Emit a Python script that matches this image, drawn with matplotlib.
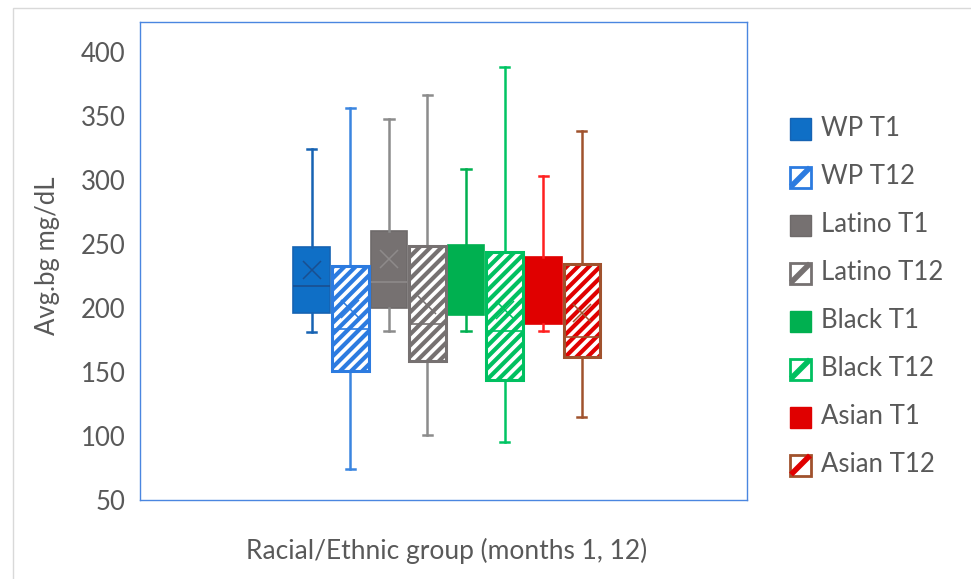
import matplotlib
matplotlib.use('Agg')
import matplotlib.pyplot as plt
from matplotlib.patches import PathPatch, Rectangle
from matplotlib.lines import Line2D

plt.rcParams['font.family'] = ['Lato', 'DejaVu Sans']
plt.rcParams['hatch.linewidth'] = 3.0

# values (mg/dL)
labels = ['WP T1', 'WP T12', 'Latino T1', 'Latino T12',
          'Black T1', 'Black T12', 'Asian T1', 'Asian T12']
whis_lo = [181, 74.5, 182, 101, 182, 95, 182, 115]
q1 = [196, 151, 200, 159, 194.5, 144, 187.5, 161.5]
med = [217, 184, 220, 187.5, 218, 182, 210, 177]
q3 = [247.5, 233, 260.5, 248.5, 249.5, 244, 239.5, 234.5]
whis_hi = [324, 356, 347.5, 366.5, 309, 388.5, 303, 338.5]
means = [229.5, 199.5, 238.5, 202, 224, 198.5, 214, 196.5]
yticks = [50, 100, 150, 200, 250, 300, 350, 400]

# styling per box
face = ['#0F6FC6', 'white', '#767171', 'white', '#00B050', 'white', '#E00000', 'white']
edge = ['#1663B3', '#2C7BE0', '#6E6A6A', '#767171', '#00B050', '#00C060', '#E00000', '#A0522D']
hatchc = [None, '#2C7BE0', None, '#767171', None, '#00C060', None, '#E00000']
whisc = ['#1663B3', '#3A85E0', '#8C8C8C', '#8C8C8C', '#00B050', '#00C463', '#FF2020', '#A0522D']
markc = ['#1A4F8F', '#2C7BE0', '#8E8A8A', '#767171', '#00B050', '#00C060', '#E00000', '#A0522D']

W, H = 971, 579
fig = plt.figure(figsize=(W / 100, H / 100), dpi=100)
ax = fig.add_axes([140 / W, 1 - 500 / H, 607 / W, 478 / H])

stats = []
for i in range(len(labels)):
    stats.append(dict(label=labels[i], whislo=whis_lo[i], q1=q1[i], med=med[i],
                      q3=q3[i], whishi=whis_hi[i], mean=means[i], fliers=[]))

pos = list(range(len(labels)))
res = ax.bxp(stats, positions=pos, widths=0.95, capwidths=0.24, patch_artist=True,
             showmeans=True, showfliers=False, manage_ticks=False)

for i, box in enumerate(res['boxes']):
    if hatchc[i] is None:
        box.set_facecolor(face[i])
        box.set_edgecolor(edge[i])
        box.set_linewidth(1.2)
    else:
        box.set_facecolor('white')
        box.set_edgecolor(hatchc[i])
        box.set_hatch('///')
        box.set_linewidth(0)
        ax.add_patch(PathPatch(box.get_path(), facecolor='none', edgecolor=edge[i],
                               linewidth=2.2, zorder=box.get_zorder() + 0.1))
    res['medians'][i].set(color=markc[i], linewidth=1.2, zorder=4)
    res['means'][i].set(marker='x', markersize=13, markeredgewidth=1.1,
                        markeredgecolor=markc[i], zorder=4)
    for ln in res['whiskers'][2 * i:2 * i + 2] + res['caps'][2 * i:2 * i + 2]:
        ln.set(color=whisc[i], linewidth=1.8)

ax.set_xlim(-4.45, 11.28)
ax.set_ylim(50, 423.5)
ax.set_yticks(yticks)
ax.set_xticks([])
ax.tick_params(axis='y', length=0, pad=10.5, labelsize=18.5, labelcolor='#595959')
for s in ax.spines.values():
    s.set_color('#4A86E0')
    s.set_linewidth(1.0)

fig.text(48 / W, 1 - 256 / H, 'Avg.bg mg/dL', rotation=90, ha='center', va='center',
         fontsize=18.5, color='#595959')
fig.text(447 / W, 1 - 551 / H, 'Racial/Ethnic group (months 1, 12)', ha='center',
         va='center', fontsize=19, color='#595959')

# legend drawn by hand in figure pixels
for i, lab in enumerate(labels):
    yc = 129 + 48 * i
    x0, s = 790, 21
    if hatchc[i] is None:
        fig.add_artist(Rectangle((x0 / W, 1 - (yc + s / 2) / H), s / W, s / H,
                                 transform=fig.transFigure, facecolor=face[i],
                                 edgecolor=edge[i], linewidth=1))
    else:
        fig.add_artist(Rectangle((x0 / W, 1 - (yc + s / 2) / H), s / W, s / H,
                                 transform=fig.transFigure, facecolor='white',
                                 edgecolor=edge[i], linewidth=2))
        fig.add_artist(Line2D([(x0 + 3) / W, (x0 + s - 3) / W],
                              [1 - (yc + s / 2 - 3) / H, 1 - (yc - s / 2 + 3) / H],
                              transform=fig.transFigure, color=hatchc[i], linewidth=4))
    fig.text(821 / W, 1 - yc / H, lab, ha='left', va='center', fontsize=18.5, color='#595959')

# chart area border
fig.add_artist(Rectangle((13 / W, -0.1), 1.2, 1.1 - 8 / H, transform=fig.transFigure,
                         facecolor='none', edgecolor='#D9D9D9', linewidth=1))

fig.savefig('out.png', dpi=100)
